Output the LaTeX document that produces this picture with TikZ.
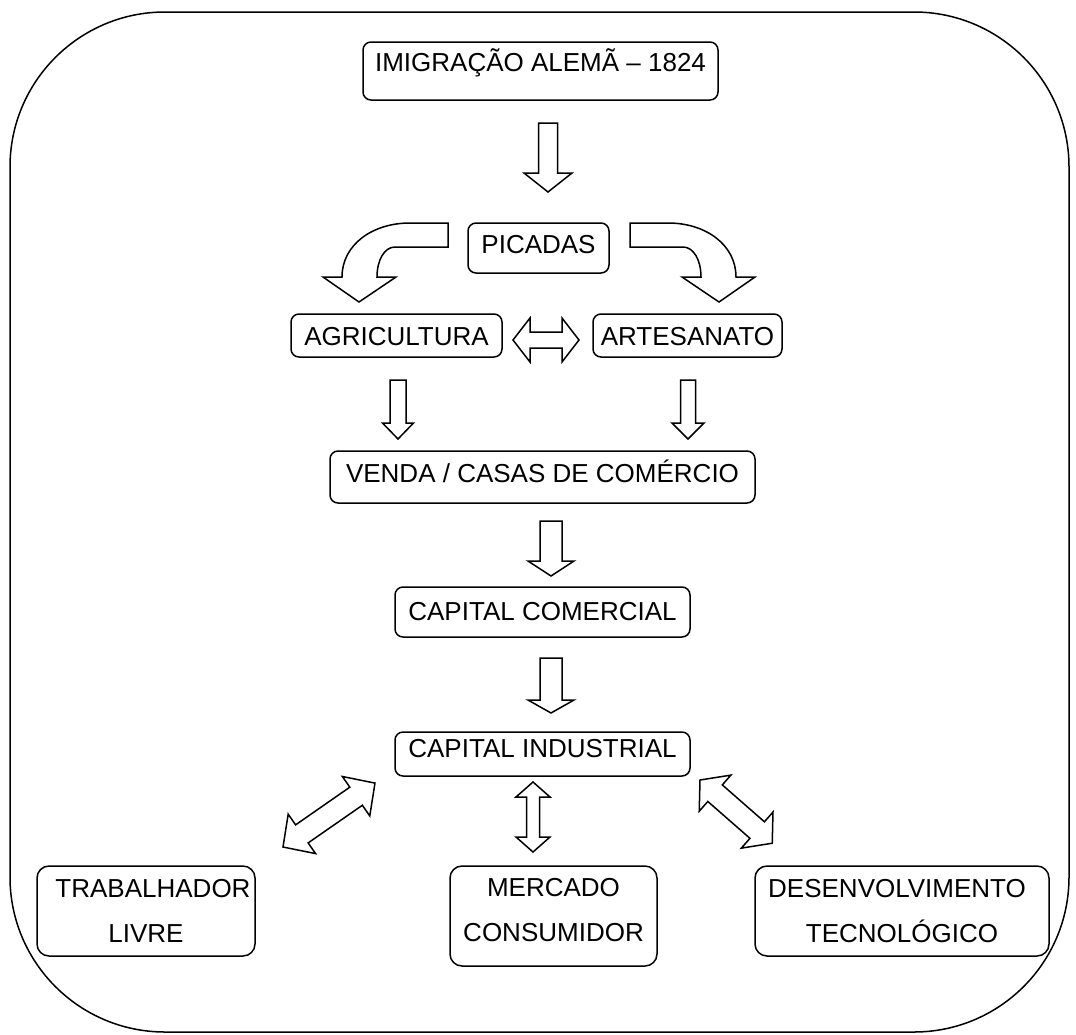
\documentclass[tikz,border=0pt]{standalone}
\usepackage{fontspec}
\setmainfont{Liberation Sans}
\newcommand{\downblk}[6]{%
  \draw[blk] ({#1-#5},#2) -- ({#1+#5},#2) -- ({#1+#5},#3) -- ({#1+#6},#3) -- (#1,#4) -- ({#1-#6},#3) -- ({#1-#5},#3) -- cycle;}
\newcommand{\dblblk}[7]{%
  \begin{scope}[shift={(#1,#2)},rotate=#3]
    \draw[blk] (0,0) -- (#5,#6) -- (#5,#7) -- ({#4-#5},#7) -- ({#4-#5},#6) -- (#4,0)
      -- ({#4-#5},-#6) -- ({#4-#5},-#7) -- (#5,-#7) -- (#5,-#6) -- cycle;
  \end{scope}}
\newcommand{\bendblk}{%
  \draw[blk] (448,223) -- (410,223) .. controls (372,223) and (342,245) .. (342,277)
    -- (323,277) -- (359,302) -- (396,277) -- (377,277)
    .. controls (377,260.4) and (384.2,247) .. (395,247) -- (448,247) -- cycle;}
\begin{document}
\begin{tikzpicture}[x=1pt,y=-1pt,
  box/.style={draw, line width=1.5pt, rounded corners=8pt, inner sep=0pt,
    font=\fontsize{26}{30}\selectfont, text height=19pt},
  box2/.style={draw, line width=1.5pt, rounded corners=12pt, inner sep=0pt,
    font=\fontsize{26}{45}\selectfont, align=center},
  blk/.style={draw, line width=1.5pt, line join=miter, fill=white}]
\useasboundingbox (0,0) rectangle (1076,1034);
\draw[line width=1.5pt, rounded corners=155pt] (10,12) rectangle (1069,1032);

% boxes
\node[box, minimum width=355pt, minimum height=58pt, text depth=18pt] (imig) at (540.5,71) {IMIGRAÇÃO ALEMÃ – 1824};
\node[box, minimum width=141pt, minimum height=50pt, text depth=8pt] (pic) at (538.5,248) {PICADAS};
\node[box, minimum width=211pt, minimum height=43pt, text depth=0pt] (agri) at (396.5,335.5) {AGRICULTURA};
\node[box, minimum width=189pt, minimum height=43pt, text depth=0pt] (arte) at (687.5,335.5) {ARTESANATO};
\node[box, minimum width=425pt, minimum height=52pt, text depth=9pt] (venda) at (542.5,477) {VENDA / CASAS DE COMÉRCIO};
\node[box, minimum width=295pt, minimum height=50pt, text depth=3pt] (capcom) at (542.5,612) {CAPITAL COMERCIAL};
\node[box, minimum width=295pt, minimum height=44pt, text depth=13pt] (capind) at (542.5,754) {CAPITAL INDUSTRIAL};
\node[box2, minimum width=218pt, minimum height=90pt] (trab) at (146,911) {\hspace*{14pt}TRABALHADOR\\LIVRE};
\node[box2, minimum width=207pt, minimum height=100pt] (merc) at (553.5,916) {\raisebox{6pt}[\height][\depth]{\begin{tabular}{@{}c@{}}MERCADO\\CONSUMIDOR\end{tabular}}};
\node[box2, minimum width=294pt, minimum height=90pt] (desen) at (902,911) {DESENVOLVIMENTO\hspace*{10pt}\\TECNOLÓGICO};

% block arrows
\downblk{548}{123}{173}{192}{9.5}{24}
\bendblk
\begin{scope}[shift={(1078,0)},xscale=-1]
  \bendblk
\end{scope}
\dblblk{513}{340}{0}{66}{17}{22}{8}
\downblk{398}{380}{423}{439}{8}{15.5}
\downblk{688}{380}{423}{439}{7.5}{16}
\downblk{551}{521}{561}{576}{11}{23}
\downblk{551}{658}{700}{713}{11}{23}
\dblblk{283}{847}{34.8}{112}{23}{24}{11}
\dblblk{533}{852}{90}{70}{15}{17}{6.5}
\dblblk{700}{780}{-41.2}{96}{20}{24}{11}
\end{tikzpicture}
\end{document}
